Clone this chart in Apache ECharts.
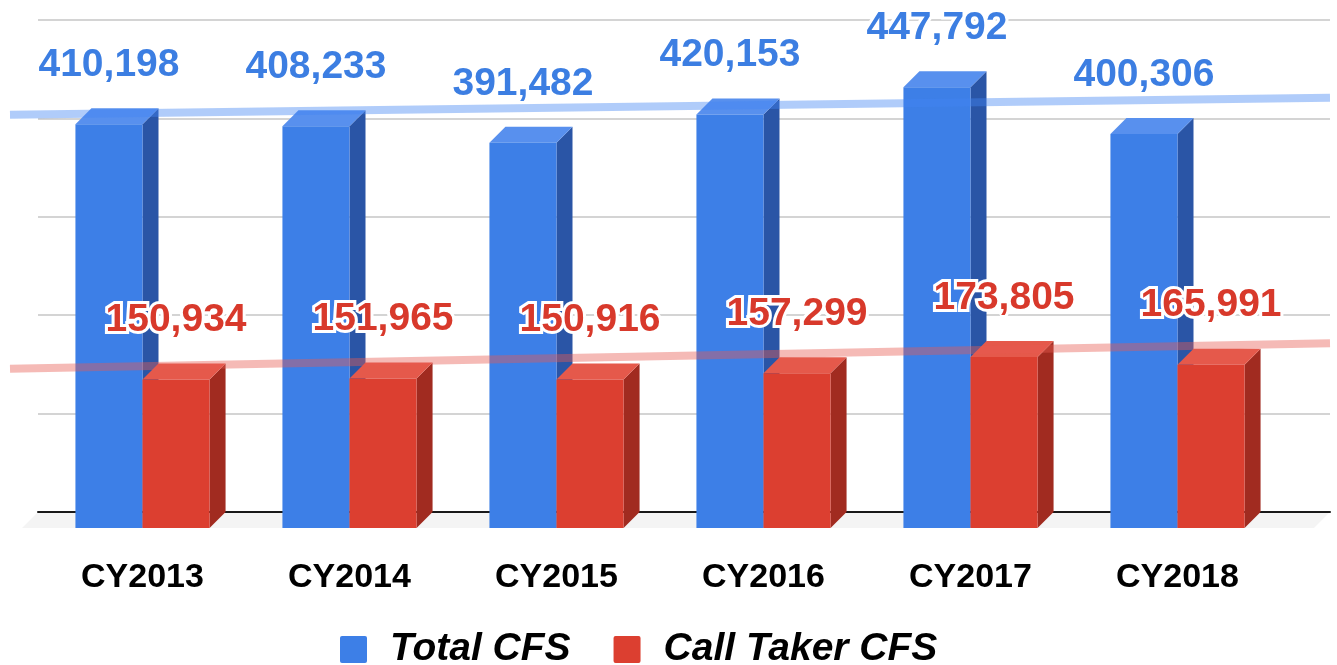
<!DOCTYPE html>
<html>
<head>
<meta charset="utf-8">
<script src="https://cdn.jsdelivr.net/npm/echarts@6/dist/echarts.min.js"></script>
<style>
  html, body { margin: 0; padding: 0; background: #ffffff; }
  #chart { width: 1337px; height: 665px; }
</style>
</head>
<body>
<div id="chart"></div>
<script>
// ---- data ----
const categories = ['CY2013', 'CY2014', 'CY2015', 'CY2016', 'CY2017', 'CY2018'];
const totalCFS = [410198, 408233, 391482, 420153, 447792, 400306];
const callTakerCFS = [150934, 151965, 150916, 157299, 173805, 165991];
const seriesNames = ['Total CFS', 'Call Taker CFS'];
// trend line values read at the left and right ends of the plot
const trendTotal = [403800, 421000];
const trendCallTaker = [145500, 171500];
const yMin = 0, yMax = 500000, yInterval = 100000;

// ---- styling ----
const FONT = '"Liberation Sans", Arial, sans-serif';
const DEPTH = 16;
const BAR_FRAC = 0.324;
const BLUE = { front: '#3d7fe7', top: '#5890ee', side: '#2a55a6', label: '#3c7ee2' };
const RED = { front: '#dc3f30', top: '#e5594b', side: '#a12b20', label: '#d8392b' };

function fmt(v) { return v.toLocaleString('en-US'); }

function makeBarRender(sideIndex, c) {
  return function (params, api) {
    const ci = api.value(0), v = api.value(1);
    const base = api.coord([ci, 0]);
    const top = api.coord([ci, v]);
    const band = api.size([1, 0])[0];
    const w = band * BAR_FRAC;
    const x0 = sideIndex === 0 ? base[0] - w : base[0];
    const x1 = x0 + w;
    const yT = top[1], yB = base[1];
    const D = DEPTH;
    return {
      type: 'group',
      children: [
        { type: 'polygon', shape: { points: [[x1, yB], [x1 + D, yB - D], [x1 + D, yT - D], [x1, yT]] }, style: { fill: c.side } },
        { type: 'polygon', shape: { points: [[x0, yT], [x0 + D, yT - D], [x1 + D, yT - D], [x1, yT]] }, style: { fill: c.top } },
        { type: 'rect', shape: { x: x0, y: yT, width: w, height: yB - yT }, style: { fill: c.front } },
        { type: 'text', z2: 10, style: {
            text: fmt(v), x: (x0 + x1) / 2, y: yT - D - 43,
            align: 'center', verticalAlign: 'middle',
            fill: c.label, font: 'bold 39px ' + FONT,
            stroke: '#ffffff', lineWidth: 6, strokeFirst: true
        } }
      ]
    };
  };
}

const chart = echarts.init(document.getElementById('chart'), null, { renderer: 'canvas' });

const option = {
  backgroundColor: '#ffffff',
  animation: false,
  grid: [
    { left: 38, right: 7, top: 20, height: 492 },   // back plane (gridlines)
    { left: 39, width: 1242, top: 36, height: 492 }, // front plane (bars)
    { left: 10, right: 7, top: 20, height: 492 }     // trend lines
  ],
  xAxis: [
    { gridIndex: 0, type: 'category', data: categories, boundaryGap: true,
      axisLine: { show: true, lineStyle: { color: '#1a1a1a', width: 2 } },
      axisTick: { show: false }, axisLabel: { show: false }, splitLine: { show: false } },
    { gridIndex: 1, type: 'category', data: categories, boundaryGap: true,
      axisLine: { show: false }, axisTick: { show: false },
      axisLabel: { show: true, margin: 33, color: '#000000', fontFamily: FONT, fontWeight: 'bold', fontSize: 34 } },
    { gridIndex: 2, type: 'value', min: 0, max: 1, show: false }
  ],
  yAxis: [
    { gridIndex: 0, type: 'value', min: yMin, max: yMax, interval: yInterval,
      axisLine: { show: false }, axisTick: { show: false }, axisLabel: { show: false },
      splitLine: { show: true, lineStyle: { color: '#c6c6c6', width: 1.5 } } },
    { gridIndex: 1, type: 'value', min: yMin, max: yMax, interval: yInterval, show: false, splitLine: { show: false } },
    { gridIndex: 2, type: 'value', min: yMin, max: yMax, interval: yInterval, show: false, splitLine: { show: false } }
  ],
  legend: {
    data: seriesNames,
    left: 340, top: 630, padding: 0,
    itemWidth: 27, itemHeight: 27, itemGap: 43,
    icon: 'path://M2,0H25A2,2,0,0,1,27,2V25A2,2,0,0,1,25,27H2A2,2,0,0,1,0,25V2A2,2,0,0,1,2,0Z',
    textStyle: { fontFamily: FONT, fontSize: 39, fontWeight: 'bold', fontStyle: 'italic', color: '#000000', padding: [0, 0, 0, 18] }
  },
  series: [
    { // floor shadow
      type: 'custom', xAxisIndex: 0, yAxisIndex: 0, z: 1, silent: true,
      data: [[0, 0]],
      renderItem: function (params, api) {
        const cs = params.coordSys;
        const yb = cs.y + cs.height;
        return { type: 'polygon', shape: { points: [[cs.x, yb], [cs.x + cs.width, yb], [cs.x + cs.width - DEPTH, yb + DEPTH], [cs.x - DEPTH, yb + DEPTH]] },
          style: { fill: 'rgba(0,0,0,0.045)', shadowBlur: 16, shadowColor: 'rgba(0,0,0,0.12)', shadowOffsetY: 10 } };
      }
    },
    {
      name: seriesNames[0], type: 'custom', xAxisIndex: 1, yAxisIndex: 1, z: 3,
      itemStyle: { color: BLUE.front },
      encode: { x: 0, y: 1 },
      data: totalCFS.map((v, i) => [i, v]),
      renderItem: makeBarRender(0, BLUE)
    },
    {
      name: seriesNames[1], type: 'custom', xAxisIndex: 1, yAxisIndex: 1, z: 4,
      itemStyle: { color: RED.front },
      encode: { x: 0, y: 1 },
      data: callTakerCFS.map((v, i) => [i, v]),
      renderItem: makeBarRender(1, RED)
    },
    {
      name: 'Total trend', type: 'line', xAxisIndex: 2, yAxisIndex: 2, z: 5, silent: true,
      symbol: 'none', data: [[0, trendTotal[0]], [1, trendTotal[1]]],
      lineStyle: { color: 'rgba(66,133,244,0.42)', width: 8 }
    },
    {
      name: 'Call Taker trend', type: 'line', xAxisIndex: 2, yAxisIndex: 2, z: 5, silent: true,
      symbol: 'none', data: [[0, trendCallTaker[0]], [1, trendCallTaker[1]]],
      lineStyle: { color: 'rgba(230,90,80,0.42)', width: 8 }
    }
  ]
};

chart.setOption(option);
</script>
</body>
</html>
